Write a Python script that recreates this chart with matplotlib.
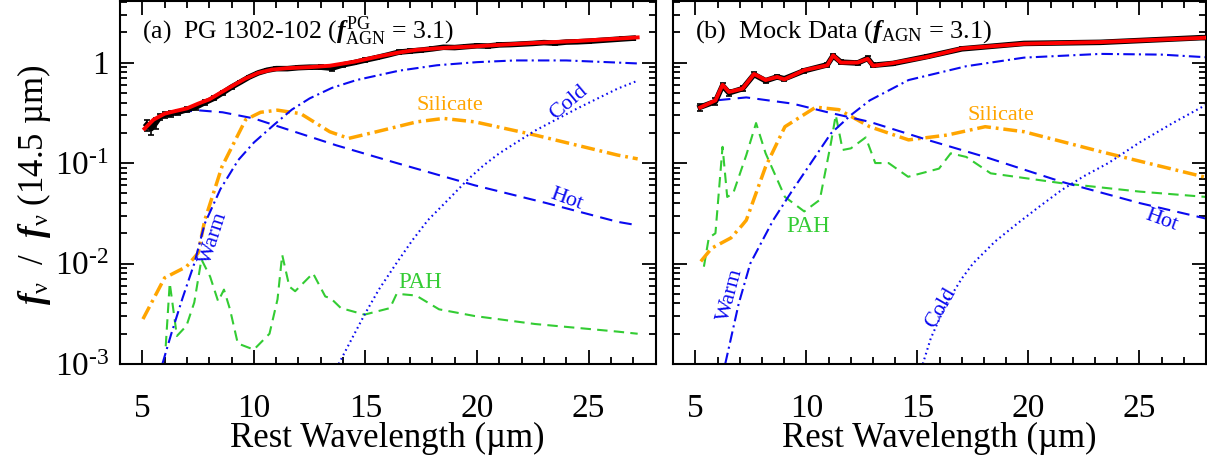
# SED decomposition chart: PG 1302-102 vs mock data
import matplotlib
matplotlib.use('Agg')
import matplotlib.pyplot as plt
from matplotlib.ticker import FixedLocator, FixedFormatter, MultipleLocator, LogLocator, NullFormatter

plt.rcParams['font.family'] = ['Liberation Serif', 'DejaVu Serif']
plt.rcParams['mathtext.fontset'] = 'custom'
plt.rcParams['mathtext.rm'] = 'Liberation Serif'
plt.rcParams['mathtext.it'] = 'Liberation Serif:italic:bold'
plt.rcParams['mathtext.bf'] = 'Liberation Serif:bold'

# ---- panel (a): PG 1302-102 ----
a_obs_wave = [5.2, 5.4, 5.6, 5.8, 6.0, 6.3, 6.6, 7.0, 7.4, 7.8, 8.2, 8.6, 9.0, 9.4, 9.8,
              10.2, 10.6, 11.0, 11.5, 12.0, 12.5, 13.0, 13.5, 14.0, 14.5, 15.0, 15.5, 16.0,
              16.5, 17.0, 17.5, 18.0, 18.5, 19.0, 19.5, 20.0, 20.5, 21.0, 21.5, 22.0, 22.5,
              23.0, 23.5, 24.0, 24.5, 25.0, 25.5, 26.0, 26.5, 27.0]
a_obs_flux = [0.24, 0.22, 0.25, 0.29, 0.30, 0.31, 0.32, 0.34, 0.36, 0.40, 0.44, 0.50, 0.57,
              0.64, 0.72, 0.79, 0.84, 0.87, 0.87, 0.89, 0.90, 0.90, 0.88, 0.95, 1.00, 1.06,
              1.12, 1.19, 1.27, 1.30, 1.33, 1.37, 1.42, 1.41, 1.44, 1.47, 1.46, 1.50, 1.51,
              1.53, 1.55, 1.58, 1.56, 1.60, 1.61, 1.63, 1.66, 1.69, 1.72, 1.75]
a_obs_err = [0.03, 0.03, 0.03, 0.02, 0.02, 0.02, 0.02, 0.02, 0.02, 0.02, 0.02, 0.02, 0.02,
             0.02, 0.02, 0.02, 0.02, 0.03, 0.03, 0.03, 0.03, 0.04, 0.05, 0.04, 0.04, 0.04,
             0.04, 0.04, 0.05, 0.05, 0.05, 0.05, 0.05, 0.05, 0.05, 0.05, 0.05, 0.05, 0.05,
             0.05, 0.05, 0.05, 0.05, 0.05, 0.05, 0.06, 0.06, 0.06, 0.06, 0.06]

a_model_wave = [5.1, 5.5, 6.0, 6.5, 7.0, 7.5, 8.0, 8.5, 9.0, 9.6, 10.2, 10.8, 11.5, 12.5,
                13.4, 14.5, 15.5, 16.5, 17.3, 18.5, 19.9, 21.0, 22.6, 24.5, 26.3, 27.2]
a_model_flux = [0.22, 0.27, 0.31, 0.33, 0.35, 0.39, 0.43, 0.50, 0.58, 0.69, 0.79, 0.85,
                0.88, 0.90, 0.93, 1.02, 1.14, 1.26, 1.34, 1.40, 1.45, 1.50, 1.57, 1.64,
                1.73, 1.78]

a_hot_wave = [5.1, 6.1, 7.5, 8.6, 10.0, 11.4, 13.7, 16.4, 19.9, 23.1, 26.3, 27.2]
a_hot_flux = [0.22, 0.31, 0.335, 0.32, 0.278, 0.22, 0.15, 0.10, 0.06, 0.040, 0.026, 0.024]

a_warm_wave = [5.9, 6.3, 6.8, 7.33, 7.8, 8.5, 9.3, 10.0, 10.9, 11.7, 12.5, 13.5, 14.6,
               16.5, 18.2, 20.0, 21.7, 24.0, 26.3, 27.2]
a_warm_flux = [0.001, 0.002, 0.0045, 0.010, 0.025, 0.055, 0.107, 0.16, 0.24, 0.34, 0.44,
               0.56, 0.67, 0.83, 0.94, 1.01, 1.05, 1.05, 1.00, 0.98]

a_cold_wave = [13.8, 14.4, 14.96, 15.6, 16.38, 17.1, 17.8, 18.7, 19.57, 20.3, 21.0, 22.6,
               24.5, 26.3, 27.2]
a_cold_flux = [0.001, 0.0018, 0.0031, 0.0055, 0.010, 0.017, 0.027, 0.043, 0.068, 0.095,
               0.125, 0.21, 0.35, 0.55, 0.66]

a_sil_wave = [5.03, 6.0, 6.98, 7.5, 7.8, 8.57, 9.63, 10.3, 11.06, 12.1, 13.4, 14.25, 15.5,
              17.3, 18.5, 19.9, 22.6, 26.3, 27.2]
a_sil_flux = [0.0028, 0.0072, 0.0093, 0.0127, 0.027, 0.092, 0.27, 0.32, 0.336, 0.31,
              0.205, 0.176, 0.205, 0.257, 0.278, 0.257, 0.19, 0.12, 0.11]

a_pah_wave = [6.05, 6.23, 6.55, 6.98, 7.33, 7.65, 8.04, 8.4, 8.66, 8.93, 9.28, 10.0, 10.7,
              11.06, 11.27, 11.59, 11.85, 12.65, 13.2, 13.45, 13.9, 14.96, 16.1, 16.4,
              17.27, 18.3, 19.9, 22.6, 26.3, 27.2]
a_pah_flux = [0.0015, 0.0064, 0.0019, 0.0024, 0.0041, 0.011, 0.0074, 0.0042, 0.0055,
              0.0035, 0.0016, 0.00139, 0.002, 0.0044, 0.0122, 0.0059, 0.0053, 0.008,
              0.0047, 0.0045, 0.0036, 0.0031, 0.0036, 0.005, 0.0048, 0.0035, 0.003,
              0.0025, 0.0021, 0.002]

# ---- panel (b): mock data ----
b_model_wave = [5.21, 5.9, 6.22, 6.51, 7.12, 7.64, 8.16, 8.68, 9.0, 9.9, 10.94, 11.2,
                11.55, 12.3, 12.76, 13.0, 13.9, 15.45, 17.0, 19.8, 23.25, 27.8, 28.0]
b_model_flux = [0.357, 0.42, 0.60, 0.51, 0.55, 0.77, 0.67, 0.72, 0.68, 0.84, 0.94, 1.18,
                1.00, 1.00, 1.09, 0.93, 0.99, 1.14, 1.38, 1.54, 1.60, 1.76, 1.77]
b_obs_flux = [0.36, 0.41, 0.59, 0.50, 0.55, 0.76, 0.66, 0.72, 0.69, 0.83, 0.95, 1.17,
              1.01, 0.99, 1.10, 0.94, 0.98, 1.15, 1.37, 1.55, 1.59, 1.77, 1.77]
b_obs_err = [0.03, 0.03, 0.04, 0.03, 0.03, 0.04, 0.03, 0.03, 0.03, 0.04, 0.04, 0.05,
             0.04, 0.04, 0.06, 0.04, 0.04, 0.04, 0.05, 0.05, 0.05, 0.05, 0.05]

b_hot_wave = [5.21, 5.9, 7.29, 9.38, 10.96, 12.85, 15.45, 18.05, 21.5, 25.0, 28.0]
b_hot_flux = [0.35, 0.42, 0.45, 0.39, 0.32, 0.257, 0.17, 0.115, 0.065, 0.040, 0.028]

b_warm_wave = [6.34, 6.95, 7.47, 8.5, 9.38, 10.2, 11.1, 12.0, 12.85, 14.6, 17.2, 19.8,
               23.25, 26.0, 28.0]
b_warm_flux = [0.001, 0.004, 0.010, 0.027, 0.054, 0.10, 0.197, 0.30, 0.42, 0.67, 0.92,
               1.12, 1.22, 1.20, 1.13]

b_cold_wave = [15.24, 15.6, 16.3, 17.0, 17.5, 18.5, 19.5, 20.5, 21.5, 22.5, 23.6, 25.0,
               26.5, 28.0]
b_cold_flux = [0.001, 0.0018, 0.004, 0.0071, 0.010, 0.0166, 0.025, 0.037, 0.054, 0.074,
               0.10, 0.16, 0.25, 0.38]

b_sil_wave = [5.24, 5.73, 6.6, 7.1, 7.29, 8.16, 9.03, 10.42, 11.46, 12.85, 14.6, 16.35,
              18.05, 19.8, 23.25, 28.0]
b_sil_flux = [0.0105, 0.0142, 0.018, 0.024, 0.027, 0.092, 0.23, 0.36, 0.34, 0.23, 0.17,
              0.19, 0.23, 0.205, 0.13, 0.072]

b_pah_wave = [5.38, 5.6, 5.9, 6.22, 6.43, 6.7, 7.29, 7.73, 8.16, 9.03, 9.9, 10.6, 11.1,
              11.32, 11.63, 12.0, 12.67, 13.1, 13.7, 14.58, 15.97, 16.5, 17.2, 18.3, 21.5,
              25.0, 28.0]
b_pah_flux = [0.0093, 0.018, 0.020, 0.145, 0.046, 0.05, 0.12, 0.25, 0.125, 0.046, 0.033,
              0.043, 0.157, 0.30, 0.135, 0.14, 0.18, 0.10, 0.10, 0.073, 0.088, 0.125,
              0.115, 0.079, 0.063, 0.052, 0.046]

ytick_vals = [1e-3, 1e-2, 1e-1, 1]
ytick_text = [r'10$^{\text{-3}}$', r'10$^{\text{-2}}$', r'10$^{\text{-1}}$', '1']

BLUE = '#0a0af0'
ORANGE = '#ffa500'
GREEN = '#33cc33'

fig = plt.figure(figsize=(12.07, 4.59), dpi=100)
ax1 = fig.add_axes([0.0994, 0.2070, 0.4437, 0.7908])
ax2 = fig.add_axes([0.5578, 0.2070, 0.4414, 0.7908])


def draw_panel(ax, obs_w, obs_f, obs_e, mod_w, mod_f, hot_w, hot_f, warm_w, warm_f,
               cold_w, cold_f, sil_w, sil_f, pah_w, pah_f):
    ax.plot(pah_w, pah_f, color=GREEN, lw=1.5, ls=(0, (5, 3)))
    ax.plot(sil_w, sil_f, color=ORANGE, lw=2.5, ls=(0, (4, 1.4, 0.8, 1.4)))
    ax.plot(cold_w, cold_f, color=BLUE, lw=1.5, ls=(0, (0.8, 1.6)))
    ax.plot(warm_w, warm_f, color=BLUE, lw=1.5, ls=(0, (5.5, 2, 1, 2)))
    ax.plot(hot_w, hot_f, color=BLUE, lw=1.5, ls=(0, (6, 3.5)))
    ax.errorbar(obs_w, obs_f, yerr=obs_e, color='black', lw=4, elinewidth=1.2,
                capsize=2.5, capthick=1.2, zorder=3)
    ax.plot(mod_w, mod_f, color='red', lw=2.8, zorder=4)

    ax.set_yscale('log')
    ax.set_xlim(4, 28)
    ax.set_ylim(1e-3, 4.1)
    ax.xaxis.set_major_locator(MultipleLocator(5))
    ax.xaxis.set_minor_locator(MultipleLocator(1))
    ax.yaxis.set_major_locator(FixedLocator(ytick_vals))
    ax.yaxis.set_major_formatter(FixedFormatter(ytick_text))
    ax.yaxis.set_minor_locator(LogLocator(base=10, subs=range(2, 10)))
    ax.yaxis.set_minor_formatter(NullFormatter())
    ax.tick_params(which='both', direction='in', top=True, right=True, width=1.3)
    ax.tick_params(which='major', length=10, labelsize=24)
    ax.tick_params(axis='x', which='major', pad=21)
    ax.tick_params(axis='y', which='major', pad=8)
    ax.tick_params(which='minor', length=5)
    for s in ax.spines.values():
        s.set_linewidth(1.5)
    ax.set_xlabel('Rest Wavelength (\u00b5m)', fontsize=25, labelpad=-1)


draw_panel(ax1, a_obs_wave, a_obs_flux, a_obs_err, a_model_wave, a_model_flux,
           a_hot_wave, a_hot_flux, a_warm_wave, a_warm_flux, a_cold_wave, a_cold_flux,
           a_sil_wave, a_sil_flux, a_pah_wave, a_pah_flux)
draw_panel(ax2, b_model_wave, b_obs_flux, b_obs_err, b_model_wave, b_model_flux,
           b_hot_wave, b_hot_flux, b_warm_wave, b_warm_flux, b_cold_wave, b_cold_flux,
           b_sil_wave, b_sil_flux, b_pah_wave, b_pah_flux)
ax2.tick_params(axis='y', labelleft=False)

# panel titles
ax1.text(0.041, 0.915, r'(a)  PG 1302-102 ($f^{\mathrm{PG}}_{\mathrm{AGN}}$ = 3.1)',
         transform=ax1.transAxes, fontsize=18.5, va='center', ha='left', zorder=6)
ax2.text(0.040, 0.915, r'(b)  Mock Data ($f_{\mathrm{AGN}}$ = 3.1)',
         transform=ax2.transAxes, fontsize=19, va='center', ha='left', zorder=6)

# component labels, panel (a)
ax1.text(18.8, 0.37, 'Silicate', color=ORANGE, fontsize=16, ha='center', va='center')
ax1.text(24.1, 0.40, 'Cold', color=BLUE, fontsize=16, ha='center', va='center', rotation=40)
ax1.text(24.0, 0.043, 'Hot', color=BLUE, fontsize=16, ha='center', va='center', rotation=-20)
ax1.text(8.2, 0.018, 'Warm', color=BLUE, fontsize=16, ha='center', va='center', rotation=72)
ax1.text(17.45, 0.0064, 'PAH', color=GREEN, fontsize=16.5, ha='center', va='center')

# component labels, panel (b)
ax2.text(18.75, 0.30, 'Silicate', color=ORANGE, fontsize=16, ha='center', va='center')
ax2.text(26.0, 0.027, 'Hot', color=BLUE, fontsize=16, ha='center', va='center', rotation=-20)
ax2.text(10.07, 0.0234, 'PAH', color=GREEN, fontsize=16.5, ha='center', va='center')
ax2.text(6.6, 0.0049, 'Warm', color=BLUE, fontsize=16, ha='center', va='center', rotation=75)
ax2.text(16.06, 0.0036, 'Cold', color=BLUE, fontsize=16, ha='center', va='center', rotation=60)

fig.text(0.028, 0.597, r'$f_{\mathrm{\nu}}$  /  $f_{\mathrm{\nu}}$' + ' (14.5 \u00b5m)',
         rotation=90, fontsize=25, ha='center', va='center')

fig.savefig('out.png', dpi=100)
